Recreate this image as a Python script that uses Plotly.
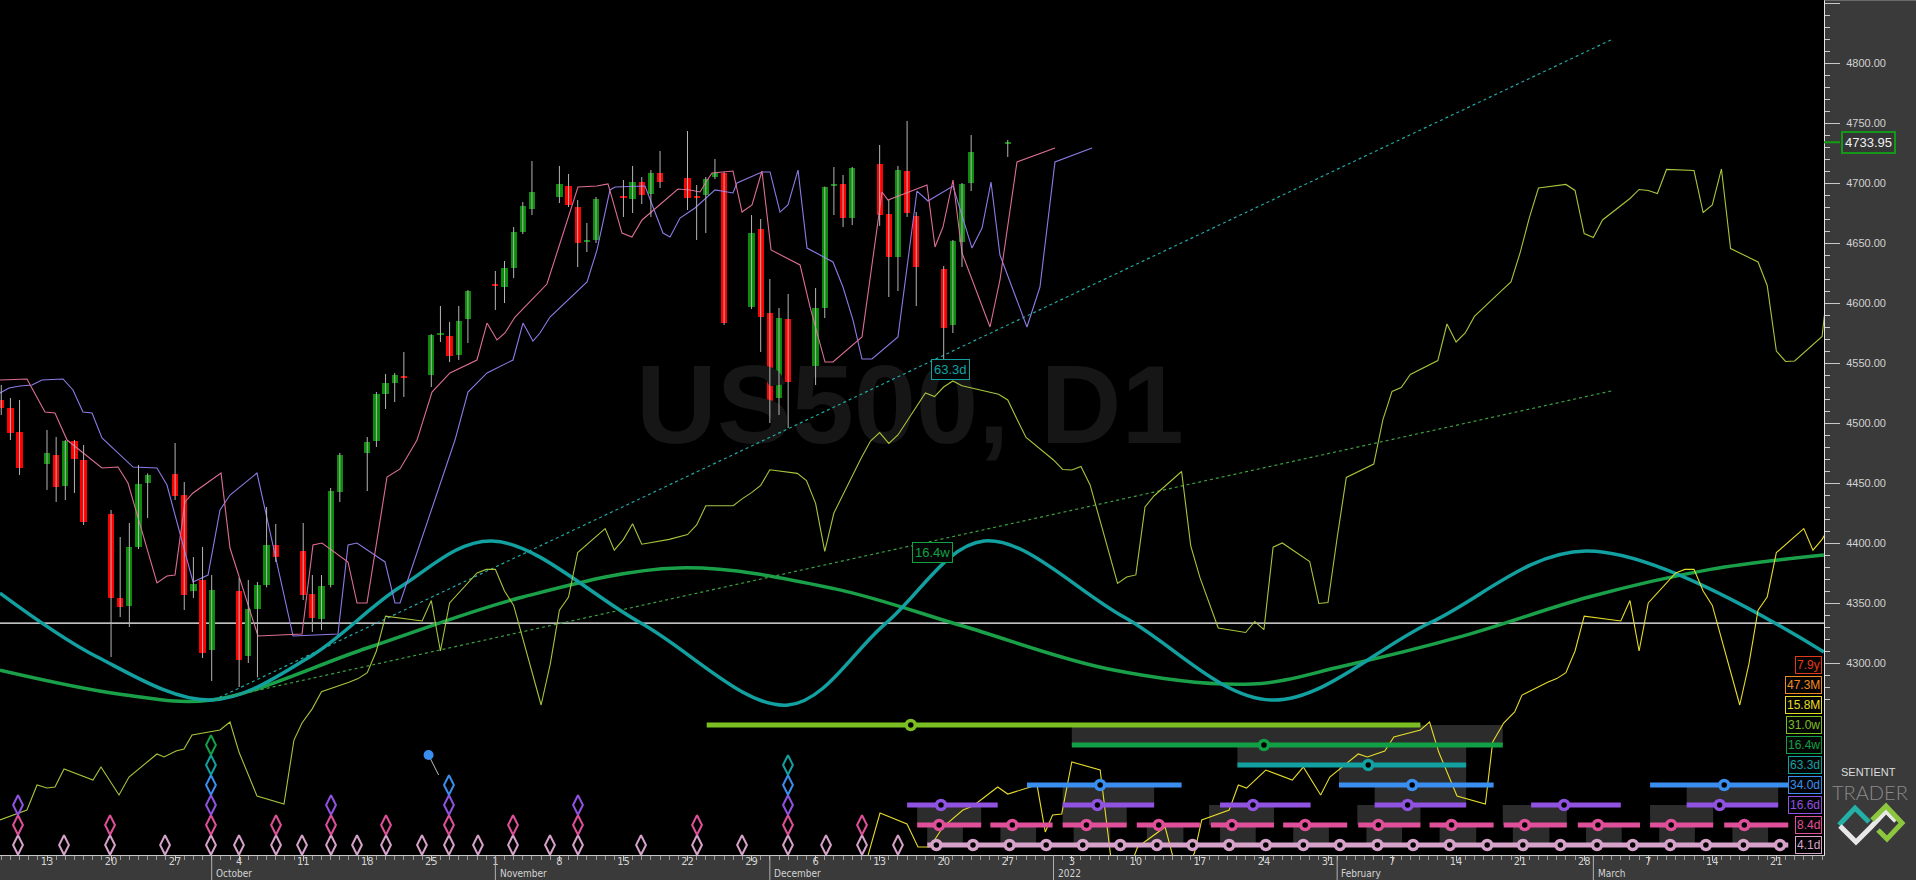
import pandas as pd
import plotly.graph_objects as go

BASE = pd.Timestamp("2021-09-13")


def when(days):
    return [None if d is None else BASE + pd.Timedelta(days=float(d)) for d in days]


# ---------------- price candles (US500, D1) ----------------
candle_dates = ["2021-09-08", "2021-09-09", "2021-09-10", "2021-09-13", "2021-09-14", "2021-09-15",
                "2021-09-16", "2021-09-17", "2021-09-20", "2021-09-21", "2021-09-22", "2021-09-23",
                "2021-09-24", "2021-09-27", "2021-09-28", "2021-09-29", "2021-09-30", "2021-10-01",
                "2021-10-04", "2021-10-05", "2021-10-06", "2021-10-07", "2021-10-08", "2021-10-11",
                "2021-10-12", "2021-10-13", "2021-10-14", "2021-10-15", "2021-10-18", "2021-10-19",
                "2021-10-20", "2021-10-21", "2021-10-22", "2021-10-25", "2021-10-26", "2021-10-27",
                "2021-10-28", "2021-10-29", "2021-11-01", "2021-11-02", "2021-11-03", "2021-11-04",
                "2021-11-05", "2021-11-08", "2021-11-09", "2021-11-10", "2021-11-11", "2021-11-12",
                "2021-11-15", "2021-11-16", "2021-11-17", "2021-11-18", "2021-11-19", "2021-11-22",
                "2021-11-23", "2021-11-24", "2021-11-25", "2021-11-26", "2021-11-29", "2021-11-30",
                "2021-12-01", "2021-12-02", "2021-12-03", "2021-12-06", "2021-12-07", "2021-12-08",
                "2021-12-09", "2021-12-10", "2021-12-13", "2021-12-14", "2021-12-15", "2021-12-16",
                "2021-12-17", "2021-12-20", "2021-12-21", "2021-12-22", "2021-12-23", "2021-12-27"]
opens = [4519.2, 4512.5, 4492.5, 4465.8, 4473.3, 4447.5, 4485.0, 4469.2, 4424.2, 4354.2, 4347.5, 4396.7,
         4450.0, 4457.5, 4440.0, 4360.0, 4369.2, 4310.8, 4360.0, 4305.8, 4345.0, 4365.0, 4398.3, 4393.3,
         4357.5, 4336.7, 4365.0, 4442.5, 4475.0, 4485.0, 4524.2, 4533.3, 4539.2, 4540.0, 4573.3, 4572.5,
         4556.7, 4586.7, 4615.8, 4613.3, 4629.2, 4659.2, 4678.3, 4688.3, 4697.5, 4680.0, 4650.8, 4652.5,
         4689.2, 4686.7, 4700.8, 4690.8, 4708.3, 4704.2, 4689.2, 4690.0, 4705.0, 4708.3, 4596.7, 4661.7,
         4591.7, 4520.8, 4586.7, 4542.5, 4595.8, 4697.5, 4699.2, 4670.8, 4715.8, 4674.2, 4638.3, 4710.0,
         4672.5, 4628.3, 4581.7, 4650.8, 4700.0, 4733.3]
highs = [4531.7, 4520.8, 4519.2, 4494.2, 4488.3, 4485.8, 4485.8, 4481.7, 4427.5, 4405.0, 4416.7, 4465.0,
         4458.0, 4483.3, 4450.8, 4388.3, 4396.7, 4373.3, 4370.8, 4369.2, 4367.5, 4430.0, 4415.8, 4416.7,
         4373.3, 4373.3, 4445.8, 4475.0, 4488.3, 4525.8, 4540.8, 4541.7, 4559.2, 4574.0, 4597.5, 4584.2,
         4597.5, 4610.8, 4626.7, 4635.0, 4663.3, 4684.2, 4718.3, 4714.2, 4707.5, 4685.8, 4666.7, 4688.3,
         4702.5, 4714.2, 4705.0, 4710.8, 4726.7, 4743.3, 4698.3, 4705.0, 4720.0, 4709.0, 4673.3, 4670.0,
         4620.0, 4595.8, 4607.5, 4612.5, 4697.0, 4713.3, 4706.7, 4713.3, 4731.7, 4685.8, 4714.2, 4751.7,
         4675.8, 4630.8, 4652.5, 4700.0, 4740.0, 4735.8]
lows = [4506.7, 4485.8, 4456.7, 4444.2, 4434.2, 4435.8, 4441.7, 4415.0, 4305.0, 4338.3, 4330.0, 4395.0,
        4420.8, 4435.8, 4344.2, 4354.2, 4304.2, 4285.0, 4280.0, 4300.0, 4288.0, 4363.0, 4384.2, 4352.5,
        4325.8, 4327.5, 4363.0, 4434.2, 4443.3, 4480.0, 4511.7, 4517.5, 4521.7, 4530.0, 4567.5, 4550.8,
        4552.5, 4566.7, 4594.2, 4600.0, 4620.8, 4657.5, 4673.3, 4683.3, 4680.0, 4630.0, 4642.5, 4650.0,
        4671.7, 4675.0, 4682.5, 4671.7, 4695.8, 4677.5, 4652.5, 4658.3, 4703.3, 4581.7, 4595.0, 4559.2,
        4500.0, 4506.7, 4495.8, 4531.7, 4587.5, 4673.3, 4663.3, 4665.0, 4664.2, 4605.0, 4610.0, 4671.7,
        4597.5, 4552.5, 4575.0, 4630.0, 4693.3, 4721.7]
closes = [4512.5, 4491.7, 4462.5, 4475.0, 4446.7, 4485.0, 4470.0, 4417.5, 4354.2, 4346.7, 4396.7, 4449.2,
          4456.7, 4439.2, 4356.7, 4365.8, 4308.3, 4360.8, 4302.5, 4345.0, 4365.0, 4398.3, 4388.3, 4356.7,
          4337.5, 4364.2, 4443.3, 4473.3, 4484.2, 4524.2, 4533.3, 4540.0, 4537.5, 4573.3, 4574.5, 4555.8,
          4585.0, 4610.0, 4614.2, 4629.2, 4659.2, 4680.8, 4692.5, 4699.2, 4681.7, 4650.0, 4652.5, 4686.7,
          4687.5, 4700.8, 4690.0, 4708.3, 4700.8, 4687.5, 4687.5, 4703.3, 4708.3, 4583.3, 4658.3, 4588.3,
          4510.0, 4587.5, 4534.2, 4595.8, 4696.7, 4699.2, 4670.8, 4712.5, 4673.3, 4638.3, 4710.8, 4675.0,
          4630.0, 4579.2, 4651.7, 4699.2, 4725.8, 4733.95]
last_price = 4733.95

# ---------------- FLD lines: (days after 2021-09-13, price) ----------------
fld_8_4d = [(-5.14, 4535.8), (-2.19, 4536.7), (-0.22, 4509.2), (0.87, 4508.3), (2.19, 4485.8), (6.01, 4462.5),
            (7.76, 4463.3), (8.85, 4450.0), (12.02, 4366.7), (13.11, 4372.5), (13.99, 4373.3), (15.08, 4434.2),
            (15.96, 4441.7), (19.02, 4458.3), (20.0, 4395.8), (23.06, 4322.5), (27.87, 4324.2), (29.07, 4398.3),
            (30.05, 4400.0), (32.9, 4384.2), (33.88, 4350.0), (34.97, 4350.0), (37.16, 4455.0), (38.58, 4461.7),
            (40.44, 4485.8), (42.08, 4525.8), (44.04, 4541.7), (46.99, 4552.5), (48.09, 4583.3), (49.18, 4569.2),
            (50.05, 4575.0), (51.15, 4588.3), (54.64, 4615.8), (56.07, 4650.0), (57.16, 4677.5), (58.03, 4696.7),
            (60.11, 4697.5), (61.31, 4699.2), (62.84, 4658.3), (63.93, 4655.0), (65.03, 4669.2), (66.99, 4681.7),
            (68.96, 4695.0), (70.27, 4694.2), (71.37, 4692.5), (72.02, 4700.8), (72.68, 4708.3), (74.97, 4710.0),
            (75.96, 4675.8), (77.05, 4681.7), (78.14, 4710.0), (79.13, 4644.2), (82.3, 4631.7), (83.39, 4596.7),
            (85.03, 4550.8), (85.9, 4550.8), (89.07, 4571.7), (91.26, 4692.5), (91.91, 4685.8), (96.17, 4698.3),
            (97.05, 4646.7), (97.92, 4663.3), (99.02, 4702.5), (100.0, 4641.7), (103.06, 4580.0), (104.15, 4619.2),
            (106.01, 4717.5), (110.16, 4729.2)]
fld_16_6d = [(-5.14, 4525.0), (-4.15, 4529.2), (-2.95, 4530.8), (-1.64, 4531.7), (-0.55, 4535.8), (1.75, 4536.7),
             (2.84, 4527.5), (3.93, 4509.2), (4.92, 4508.3), (6.01, 4487.5), (9.4, 4463.3), (12.02, 4462.5),
             (13.11, 4448.3), (15.96, 4367.5), (17.6, 4373.3), (18.91, 4427.5), (20.0, 4440.0), (22.95, 4458.3),
             (26.89, 4322.5), (31.8, 4324.2), (32.9, 4398.3), (33.88, 4400.0), (36.94, 4384.2), (38.03, 4350.0),
             (38.58, 4350.0), (44.59, 4485.8), (46.01, 4525.8), (48.09, 4541.7), (50.93, 4552.5), (52.02, 4583.3),
             (53.11, 4568.3), (53.88, 4575.0), (54.97, 4588.3), (59.02, 4617.5), (60.11, 4644.2), (61.53, 4694.2),
             (62.08, 4696.7), (65.36, 4697.5), (66.23, 4680.0), (67.32, 4658.3), (68.09, 4655.0), (69.18, 4670.8),
             (70.82, 4679.2), (73.01, 4694.2), (74.97, 4691.7), (75.41, 4700.0), (78.14, 4709.2), (79.02, 4709.2),
             (80.11, 4675.8), (80.98, 4681.7), (82.08, 4710.8), (83.06, 4645.8), (85.9, 4634.2), (86.99, 4613.3),
             (88.09, 4585.8), (89.07, 4553.3), (90.16, 4553.3), (93.0, 4571.7), (95.08, 4693.3), (96.28, 4685.0),
             (99.02, 4697.5), (101.09, 4645.8), (102.19, 4662.5), (103.17, 4700.8), (104.15, 4640.0), (107.1, 4580.0),
             (108.52, 4613.3), (110.16, 4717.5), (114.21, 4729.2)]
fld_31_0w = [(-5.14, 4169.2), (-2.19, 4177.5), (-1.09, 4198.3), (0.0, 4195.8), (0.87, 4196.7), (1.86, 4211.7),
             (5.03, 4202.5), (5.9, 4213.3), (7.87, 4190.0), (8.96, 4205.0), (12.02, 4224.2), (12.79, 4221.7),
             (14.1, 4226.7), (14.97, 4228.3), (15.85, 4240.0), (18.91, 4244.2), (20.0, 4250.8), (20.98, 4225.8),
             (22.95, 4189.2), (25.9, 4182.5), (26.99, 4235.8), (27.87, 4250.0), (29.0, 4262.0), (30, 4276.0),
             (33, 4284.0), (34, 4287.0), (35, 4292.0), (36, 4310.0), (37, 4339.0), (41, 4335.0), (42, 4352.0),
             (43, 4310.0), (44, 4350.0), (47, 4375.0), (48, 4378.0), (49, 4378.0), (50, 4360.0), (51, 4348.0),
             (54, 4265.0), (55, 4299.0), (56, 4344.0), (57, 4355.0), (58, 4392.0), (61, 4412.0), (62, 4394.0),
             (63, 4403.0), (64, 4416.0), (65, 4399.0), (68, 4403.0), (69, 4405.0), (70, 4407.0), (71, 4415.0),
             (72, 4431.0), (75, 4431.0), (76, 4437.0), (77, 4442.0), (78, 4448.0), (79, 4461.0), (82, 4458.0),
             (83, 4452.0), (84, 4433.0), (85, 4393.0), (86, 4425.0), (89, 4471.0), (90, 4485.0), (91, 4492.0),
             (92, 4483.0), (93, 4490.0), (96, 4525.0), (97, 4522.0), (98, 4530.0), (99, 4535.0), (100, 4531.0),
             (104, 4524.0), (105, 4519.2), (106, 4503.3), (107, 4488.0), (110, 4469.2),
             (111, 4461.3), (112, 4460.8), (113, 4463.8), (114, 4448.4), (117, 4366.3), (118, 4371.7),
             (119, 4373.4), (120, 4430.0), (121, 4439.4), (124, 4459.6), (125, 4397.5), (126, 4371.3),
             (127, 4350.5), (128, 4329.2), (131, 4325.4), (132, 4334.6), (133, 4327.8), (134, 4396.5),
             (135, 4400.0), (138, 4384.6), (139, 4349.6), (140, 4350.4), (141, 4404.4), (142, 4454.6),
             (145, 4465.8), (146, 4502.9), (147, 4526.3), (148, 4529.6), (149, 4540.5), (152, 4552.0),
             (153, 4582.5), (154, 4567.5), (155, 4575.0), (156, 4588.8), (159, 4610.5), (160, 4617.5),
             (161, 4642.0), (162, 4670.9), (163, 4695.8), (166, 4698.8), (167, 4693.8), (168, 4657.9),
             (169, 4654.6), (170, 4669.2), (173, 4687.1), (174, 4694.6), (175, 4693.8), (176, 4691.3),
             (177, 4711.3), (180, 4710.4), (181, 4675.4), (182, 4681.7), (183, 4711.7), (184, 4645.4),
             (187, 4634.2), (188, 4614.6), (189, 4560.0), (190, 4551.3), (191, 4551.7), (194, 4572.1),
             (195, 4642.3)]
fld_15_8m = [(89.0, 4120.0), (91.04, 4175.0), (93.99, 4165.8), (95.19, 4146.7), (96.5, 4146.7), (97.92, 4163.3),
             (100.1, 4177.5), (101.2, 4180.8), (103.9, 4196.7), (105.0, 4190.8), (108.2, 4198.3), (109.1, 4159.2),
             (109.9, 4173.3), (110.9, 4174.2), (112.0, 4217.5), (115.1, 4210.8), (116.3, 4135.8), (117.8, 4119.0),
             (119.2, 4146.7), (122.2, 4163.3), (123.2, 4134.2), (124.4, 4127.5), (125.4, 4141.7), (126.2, 4169.2),
             (129.2, 4177.5), (130.2, 4198.3), (131.1, 4195.8), (133.2, 4210.8), (136.1, 4202.5), (137.3, 4213.3),
             (139.2, 4190.0), (140.2, 4205.0), (143.3, 4224.2), (144.3, 4221.7), (146.2, 4226.7), (147.2, 4238.3),
             (150.1, 4244.2), (151.1, 4250.8), (152.1, 4225.8), (154.1, 4189.2), (157.2, 4182.5), (158.0, 4234.2),
             (159.2, 4250.0), (160.4, 4259.2), (161.2, 4273.3), (164, 4284.0), (165, 4287.0), (166, 4292.0),
             (167, 4310.0), (168, 4339.0), (172, 4335.0), (173, 4352.0), (174, 4310.0), (175, 4350.0),
             (178, 4375.0), (179, 4378.0), (180, 4378.0), (181, 4360.0), (182, 4348.0), (185, 4265.0),
             (186, 4299.0), (187, 4344.0), (188, 4355.0), (189, 4392.0), (192, 4412.0), (193, 4394.0),
             (194, 4403.0), (195, 4416.0)]

# ---------------- cycle sinusoids and trend lines ----------------
cycle_63_3d = [(-5.14, 4358.3), (5.5, 4305.0), (17.9, 4269.2), (28.7, 4305.0), (38.6, 4363.3), (48.6, 4401.7),
               (64.9, 4333.3), (81.0, 4265.0), (91.7, 4333.3), (102.4, 4401.7), (117.7, 4338.3), (133.8, 4269.2),
               (151.1, 4333.3), (168.2, 4393.3), (194.2, 4309.2)]
cycle_16_4w = [(-5.14, 4294.0), (8.0, 4274.0), (18.0, 4269.2), (35.0, 4312.5), (52.0, 4355.0), (69.0, 4379.2),
               (86.0, 4362.0), (100.0, 4331.0), (116.0, 4295.0), (131.7, 4282.5), (141.7, 4297.5), (155.0, 4323.0),
               (168.5, 4355.0), (181.8, 4378.0), (194.2, 4390.0)]
vtl_days = [18.25, 171.15]
vtl_63_3d = [4269.2, 4820.0]
vtl_16_4w = [4269.2, 4527.0]
hline_level = 4333.3

# ---------------- Hurst phasing ----------------
rows = ["4.1d", "8.4d", "16.6d", "34.0d", "63.3d", "16.4w", "31.0w", "15.8M", "47.3M", "7.9y"]
row_colors = ["#d6a2ca", "#e0509a", "#9052e0", "#3a8ef0", "#12a0a0", "#12a046", "#7cbf22", "#e4dc22",
              "#f08a22", "#e03a18"]
trough_days = [-3.17, 1.86, 6.89, 12.9, 17.92, 20.98, 25.03, 27.87, 31.04, 33.88, 37.05, 40.98, 43.93, 47.1,
               50.93, 54.97, 58.03, 64.92, 71.04, 75.96, 80.98, 85.14, 89.07, 93.0]
trough_depth = [3, 1, 2, 1, 6, 1, 2, 1, 3, 1, 2, 1, 4, 1, 2, 1, 3, 1, 2, 1, 5, 1, 2, 1]

seg_start = {
    0: [96.2],
    1: [95.1, 103.1, 111.0, 119.1, 127.2, 135.1, 143.3, 151.1, 159.2, 167.3, 175.2, 183.3],
    2: [94.0, 111.0, 128.2, 145.1, 162.2, 179.2],
    3: [107.1, 141.2, 175.2],
    4: [130.1],
    5: [112.0],
    6: [72.1],
}
seg_end = {
    0: [190.3],
    1: [102.1, 109.9, 118.0, 126.0, 134.1, 142.1, 150.1, 158.1, 166.1, 174.1, 182.1, 190.3],
    2: [103.9, 121.0, 138.1, 155.1, 172.0, 189.2],
    3: [124.0, 158.1, 190.3],
    4: [155.1],
    5: [159.1],
    6: [150.1],
}
next_trough = {
    0: [97.2, 101.2, 105.2, 109.2, 113.2, 117.3, 121.3, 125.2, 129.2, 133.2, 137.3, 141.3, 145.4, 149.3,
        153.3, 157.4, 161.3, 165.4, 169.4, 173.3, 177.4, 181.3, 185.4, 189.4],
    1: [97.5, 105.5, 113.6, 121.5, 129.5, 137.5, 145.5, 153.5, 161.5, 169.5, 177.5, 185.5],
    2: [97.7, 114.8, 131.8, 148.7, 165.8, 182.8],
    3: [115.1, 149.2, 183.3],
    4: [144.4],
    5: [133.0],
    6: [94.4],
}
# trough range boxes: (start day, end day, lower row)
range_boxes = [(96.2, 100.1, 0), (104.2, 108.1, 0), (112.2, 116.2, 0), (120.2, 124.2, 0), (128.2, 132.1, 0),
               (136.2, 140.1, 0), (144.2, 148.1, 0), (152.2, 156.2, 0), (160.2, 164.2, 0), (168.2, 172.1, 0),
               (176.2, 180.1, 0), (184.2, 188.1, 0),
               (95.1, 102.1, 1), (111.0, 118.0, 1), (127.0, 134.1, 1), (143.2, 150.1, 1), (159.1, 166.1, 1),
               (175.2, 182.1, 1),
               (111.0, 121.0, 2), (145.1, 155.1, 2), (179.2, 189.2, 2),
               (141.2, 155.1, 3), (130.1, 155.1, 4), (112.0, 159.1, 5)]
signal_dot = [(41.7, 4.5), (42.8, 3.5)]

mondays = pd.date_range("2021-09-13", "2022-03-21", freq="7D")
month_starts = ["2021-10-01", "2021-11-01", "2021-12-01", "2022-01-01", "2022-02-01", "2022-03-01"]
month_names = ["October", "November", "December", "2022", "February", "March"]
price_ticks = [4300, 4350, 4400, 4450, 4500, 4550, 4600, 4650, 4700, 4750, 4800, 4850]

# ---------------- figure ----------------
PLOT_W, PLOT_H = 1824, 855
NARROW = "Liberation Sans Narrow, DejaVu Sans Condensed, Arial Narrow, sans-serif"
SANS = "Liberation Sans, Arial, sans-serif"

fig = go.Figure()

fig.add_trace(go.Scatter(x=when([94.3]), y=[4506.7], mode="text", text=["US500, D1"],
                         textfont=dict(family=SANS, size=112, color="#161616", weight="bold"),
                         hoverinfo="skip"))


def add_line(pairs, color, width, shape="linear", dash="solid"):
    d, v = zip(*pairs)
    fig.add_trace(go.Scatter(x=when(d), y=list(v), mode="lines",
                             line=dict(color=color, width=width, shape=shape, dash=dash,
                                       smoothing=1.0 if shape == "spline" else None),
                             hoverinfo="skip"))


add_line(cycle_16_4w, "#1aa048", 3.5, shape="spline")
add_line(cycle_63_3d, "#12a0a0", 3.5, shape="spline")
add_line(list(zip(vtl_days, vtl_63_3d)), "#22a8a0", 1.2, dash="dot")
add_line(list(zip(vtl_days, vtl_16_4w)), "#3aa040", 1.2, dash="dot")
add_line(fld_31_0w, "#a6c43c", 1.1)
add_line(fld_15_8m, "#e6dc2a", 1.1)
add_line(fld_16_6d, "#8f7ae6", 1.1)
add_line(fld_8_4d, "#dc6e98", 1.1)

# candles
cdates = pd.to_datetime(candle_dates)
wx, wy = [], []
for d, h, l in zip(cdates, highs, lows):
    wx += [d, d, None]
    wy += [l, h, None]
fig.add_trace(go.Scatter(x=wx, y=wy, mode="lines", line=dict(color="#b4b4b4", width=1), hoverinfo="skip"))
for is_up, col in [(True, "#0a8c0a"), (False, "#ff0000")]:
    bx, bb, bh = [], [], []
    for d, o, c in zip(cdates, opens, closes):
        if (c >= o) != is_up:
            continue
        h = max(abs(c - o), 1.7)
        mid = (c + o) / 2
        bx.append(d)
        bb.append(mid - h / 2)
        bh.append(h)
    fig.add_trace(go.Bar(x=bx, y=bh, base=bb, width=0.68 * 86400000, marker=dict(color=col, line=dict(width=0)),
                         hoverinfo="skip"))

# phasing (secondary axis in row units)
for r in sorted(seg_start):
    sx, sy = [], []
    for a, b in zip(seg_start[r], seg_end[r]):
        sx += when([a, b]) + [None]
        sy += [r, r, None]
    fig.add_trace(go.Scatter(x=sx, y=sy, yaxis="y2", mode="lines",
                             line=dict(color=row_colors[r], width=5), hoverinfo="skip"))
for r in range(6):
    xs = [d for d, n in zip(trough_days, trough_depth) if n > r]
    fig.add_trace(go.Scatter(x=when(xs), y=[r] * len(xs), yaxis="y2", mode="markers",
                             marker=dict(symbol="diamond-tall-open", size=14, color=row_colors[r],
                                         line=dict(width=2, color=row_colors[r])),
                             hoverinfo="skip"))
for r in sorted(next_trough):
    xs = next_trough[r]
    fig.add_trace(go.Scatter(x=when(xs), y=[r] * len(xs), yaxis="y2", mode="markers",
                             marker=dict(symbol="circle", size=9, color="#000000",
                                         line=dict(width=3.5, color=row_colors[r])),
                             hoverinfo="skip"))
sd, sr = zip(*signal_dot)
fig.add_trace(go.Scatter(x=when(sd), y=list(sr), yaxis="y2", mode="lines",
                         line=dict(color="#bdbdbd", width=1), hoverinfo="skip"))
fig.add_trace(go.Scatter(x=when(sd[:1]), y=list(sr[:1]), yaxis="y2", mode="markers",
                         marker=dict(size=10, color="#3a8ef0"), hoverinfo="skip"))

shapes = []
for a, b, r in range_boxes:
    x0, x1 = when([a, b])
    shapes.append(dict(type="rect", xref="x", yref="y2", x0=x0, x1=x1, y0=r, y1=r + 1,
                       fillcolor="#2c2c2c", line=dict(width=0), layer="below"))
shapes.append(dict(type="line", xref="paper", yref="y", x0=0, x1=1, y0=hline_level, y1=hline_level,
                   line=dict(color="#ffffff", width=1.3), layer="below"))
for m in month_starts:
    shapes.append(dict(type="line", xref="x", yref="paper", x0=m, x1=m, y0=0, y1=-25 / PLOT_H,
                       line=dict(color="#b0b0b0", width=1)))
# current price leader
shapes.append(dict(type="line", xref="paper", yref="y", x0=1.0, x1=1840 / PLOT_W, y0=last_price, y1=last_price,
                   line=dict(color="#12a012", width=2)))
shapes.append(dict(type="line", xref="paper", yref="paper", x0=1.0, x1=1916 / PLOT_W, y0=1, y1=1,
                   line=dict(color="#9a9a9a", width=1)))


# logo (decoration in the right panel)
def pp(x, y):
    return x / PLOT_W, 1 - y / PLOT_H


def path(pts):
    s = ""
    for i, (x, y) in enumerate(pts):
        px, py = pp(x, y)
        s += ("M" if i == 0 else "L") + f"{px:.5f},{py:.5f}"
    return s


for pts, col in [([(1839, 825), (1855, 808), (1869, 822)], "#23b0a6"),
                 ([(1840, 826), (1856, 842), (1871, 827), (1886, 811), (1896, 821)], "#e8e8e8"),
                 ([(1872, 820), (1886, 806), (1902, 823), (1887, 839), (1878, 830)], "#8cc63f")]:
    shapes.append(dict(type="path", xref="paper", yref="paper", path=path(pts),
                       line=dict(color=col, width=5)))

annotations = []
for m, name in zip(month_starts, month_names):
    annotations.append(dict(x=pd.Timestamp(m) + pd.Timedelta(hours=6), y=-18 / PLOT_H, xref="x", yref="paper",
                            text=name, showarrow=False, xanchor="left", yanchor="middle",
                            font=dict(family=NARROW, size=10, color="#d4d4d4")))
for r, (name, col) in enumerate(zip(rows, row_colors)):
    annotations.append(dict(x=1822 / PLOT_W, y=r, xref="paper", yref="y2", text=name, showarrow=False,
                            xanchor="right", yanchor="middle", bgcolor="#050505", bordercolor=col,
                            borderwidth=1, borderpad=1, font=dict(family=SANS, size=12, color=col)))
annotations.append(dict(x=when([98.7])[0], y=4544.6, xref="x", yref="y", text="63.3d", showarrow=False,
                        xanchor="center", yanchor="middle",
                        bgcolor="#050505", bordercolor="#12a0a0", borderwidth=1, borderpad=2,
                        font=dict(family=SANS, size=13, color="#12a0a0")))
annotations.append(dict(x=when([96.8])[0], y=4392.0, xref="x", yref="y", text="16.4w", showarrow=False,
                        xanchor="center", yanchor="middle",
                        bgcolor="#050505", bordercolor="#12a046", borderwidth=1, borderpad=2,
                        font=dict(family=SANS, size=13, color="#12a046")))
annotations.append(dict(x=1868 / PLOT_W, y=last_price, xref="paper", yref="y", text="4733.95", showarrow=False,
                        xanchor="center", yanchor="middle",
                        bgcolor="#353535", bordercolor="#14961a", borderwidth=2, borderpad=2,
                        font=dict(family=SANS, size=13, color="#f0f0f0")))
annotations.append(dict(x=1868 / PLOT_W, y=1 - 772 / PLOT_H, xref="paper", yref="paper", text="SENTIENT",
                        xanchor="center", yanchor="middle",
                        showarrow=False, font=dict(family=SANS, size=11, color="#dcdcdc")))
annotations.append(dict(x=1870 / PLOT_W, y=1 - 792 / PLOT_H, xref="paper", yref="paper", text="TRADER",
                        xanchor="center", yanchor="middle",
                        showarrow=False, font=dict(family="Lato, " + SANS, size=20, color="#8a8a8a", weight=300)))

x_left = BASE + pd.Timedelta(days=-47 / 9.15)
x_right = BASE + pd.Timedelta(days=(PLOT_W - 47) / 9.15)

fig.update_layout(
    width=1916, height=880,
    margin=dict(l=0, r=1916 - PLOT_W, t=0, b=880 - PLOT_H),
    paper_bgcolor="#3a3a3a", plot_bgcolor="#000000",
    showlegend=False, barmode="overlay", bargap=0,
    shapes=shapes, annotations=annotations,
    xaxis=dict(type="date", range=[x_left, x_right], showgrid=False, zeroline=False,
               tickmode="array", tickvals=list(mondays), ticktext=[str(d.day) for d in mondays],
               ticks="outside", ticklen=5, tickcolor="#c8c8c8", ticklabelstandoff=-9,
               tickfont=dict(family=NARROW, size=11, color="#d4d4d4"),
               showline=True, linecolor="#c8c8c8", linewidth=1,
               minor=dict(ticks="outside", ticklen=4, tickcolor="#9a9a9a", dtick=86400000,
                          tick0="2021-09-13", showgrid=False)),
    yaxis=dict(range=[4140, 4852.5], side="right", showgrid=False, zeroline=False,
               tickmode="array", tickvals=price_ticks, ticktext=[f"{v:.2f}" for v in price_ticks],
               ticks="outside", ticklen=15, tickcolor="#c8c8c8", ticklabelstandoff=4,
               tickfont=dict(family=SANS, size=11, color="#d2d2d2"),
               showline=True, linecolor="#e6e6e6", linewidth=1,
               minor=dict(ticks="outside", ticklen=5, tickcolor="#c8c8c8", tickmode="array",
                          tickvals=list(range(4270, 4851, 10)))),
    yaxis2=dict(range=[-0.5, 42.25], overlaying="y", anchor="x", visible=False),
)

fig.write_html("out.html", config={"displayModeBar": False},
               post_script="document.body.style.margin='0';document.body.style.overflow='hidden';")
